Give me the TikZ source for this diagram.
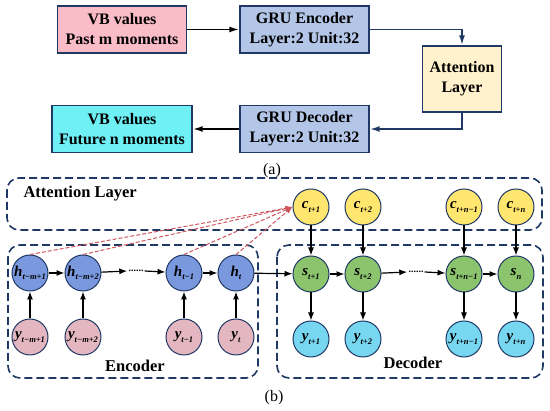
\documentclass[tikz,border=0pt]{standalone}
\usepackage{fontspec}
\setmainfont{Liberation Serif}
\definecolor{NavyLine}{RGB}{31,56,100}
\definecolor{PinkBox}{RGB}{250,188,198}
\definecolor{GruBlue}{RGB}{180,198,231}
\definecolor{AttnCream}{RGB}{255,242,204}
\definecolor{CyanBox}{RGB}{110,240,245}
\definecolor{HBlue}{RGB}{121,152,222}
\definecolor{YPink}{RGB}{228,182,192}
\definecolor{CYellow}{RGB}{255,230,110}
\definecolor{SGreen}{RGB}{140,196,110}
\definecolor{YCyan}{RGB}{120,215,240}
\definecolor{AttnRed}{RGB}{205,85,95}
\usetikzlibrary{arrows.meta,positioning}
\newcommand{\vlab}[2]{\textbf{\textit{#1}}\raisebox{-3.5pt}{\fontsize{8.5}{9}\selectfont\textbf{\textit{#2}}}}

\begin{document}
\begin{tikzpicture}[x=1pt,y=-1pt,
  box/.style={draw=NavyLine,line width=1.4pt,minimum width=129pt,minimum height=47pt,
    align=center,font=\fontsize{16}{20}\selectfont\bfseries},
  cell/.style={circle,draw=NavyLine,line width=1pt,minimum size=36pt,inner sep=0pt,
    font=\fontsize{15}{15}\selectfont},
  grp/.style={draw=NavyLine,line width=1.6pt,dash pattern=on 8pt off 4pt,rounded corners=12pt},
  flow/.style={-{Latex[length=10pt,width=6pt]},line width=1.8pt},
  link/.style={-{Latex[length=8pt,width=6pt]},line width=1.2pt},
  att/.style={-{Latex[length=7pt,width=5pt]},AttnRed,dash pattern=on 4pt off 2pt,line width=1pt}]
\useasboundingbox (0,0) rectangle (550,411);
% (a) overall flow
\node[box,fill=PinkBox] (past) at (122,29.5) {VB values\\Past m moments};
\node[box,fill=GruBlue] (enc) at (304.5,29.5) {GRU Encoder\\Layer:2 Unit:32};
\node[box,fill=AttnCream,minimum width=79pt,minimum height=66pt] (attn) at (462,79) {Attention\\Layer};
\node[box,fill=GruBlue] (dec) at (304.5,129) {GRU Decoder\\Layer:2 Unit:32};
\node[box,fill=CyanBox,minimum width=140pt] (future) at (122,129) {VB values\\Future n moments};
\draw[flow] (past) -- (enc);
\draw[flow,NavyLine] (enc.east) -| (attn.north);
\draw[flow,NavyLine] (attn.south) |- (dec.east);
\draw[flow] (dec) -- (future);
\node[font=\fontsize{16}{18}\selectfont] (capa) at (272,171) {(a)};
% (b) groups
\draw[grp] (7,178) rectangle (542,230);
\draw[grp] (8,245) rectangle (258,378);
\draw[grp] (277,245) rectangle (543,378);
\node[anchor=west,font=\fontsize{16.5}{18}\selectfont\bfseries] (attlab) at (20,194) {Attention Layer};
\node[font=\fontsize{16.5}{18}\selectfont\bfseries] (enclab) at (135,366) {Encoder};
\node[font=\fontsize{16.5}{18}\selectfont\bfseries] (declab) at (413,363) {Decoder};
\node[font=\fontsize{16}{18}\selectfont] (capb) at (274,398) {(b)};
% encoder cells
\node[cell,fill=HBlue] (h1) at (30,273) {\vlab{h}{t−m+1}};
\node[cell,fill=HBlue] (h2) at (83,273) {\vlab{h}{t−m+2}};
\node[cell,fill=HBlue] (h3) at (184,273) {\vlab{h}{t−1}};
\node[cell,fill=HBlue] (h4) at (236,273) {\vlab{h}{t}};
\node[cell,fill=YPink] (x1) at (30,337) {\vlab{y}{t−m+1}};
\node[cell,fill=YPink] (x2) at (83,337) {\vlab{y}{t−m+2}};
\node[cell,fill=YPink] (x3) at (184,337) {\vlab{y}{t−1}};
\node[cell,fill=YPink] (x4) at (236,337) {\vlab{y}{t}};
\node[inner sep=1pt,font=\bfseries] (edots) at (136,271) {......};
% decoder cells
\node[cell,fill=CYellow] (c1) at (311,207) {\vlab{c}{t+1}};
\node[cell,fill=CYellow] (c2) at (363,207) {\vlab{c}{t+2}};
\node[cell,fill=CYellow] (c3) at (464,207) {\vlab{c}{t+n−1}};
\node[cell,fill=CYellow] (c4) at (516,207) {\vlab{c}{t+n}};
\node[cell,fill=SGreen] (s1) at (311,274) {\vlab{s}{t+1}};
\node[cell,fill=SGreen] (s2) at (363,274) {\vlab{s}{t+2}};
\node[cell,fill=SGreen] (s3) at (464,274) {\vlab{s}{t+n−1}};
\node[cell,fill=SGreen] (s4) at (516,274) {\vlab{s}{n}};
\node[cell,fill=YCyan] (o1) at (311,339) {\vlab{y}{t+1}};
\node[cell,fill=YCyan] (o2) at (363,339) {\vlab{y}{t+2}};
\node[cell,fill=YCyan] (o3) at (464,339) {\vlab{y}{t+n−1}};
\node[cell,fill=YCyan] (o4) at (516,339) {\vlab{y}{t+n}};
\node[inner sep=1pt,font=\bfseries] (ddots) at (416,272) {......};
% recurrent links
\draw[link] (x1) -- (h1);
\draw[link] (x2) -- (h2);
\draw[link] (x3) -- (h3);
\draw[link] (x4) -- (h4);
\draw[link] (h1) -- (h2);
\draw[link] (h2) -- (edots.west);
\draw[link] (edots.east) -- (h3);
\draw[link] (h3) -- (h4);
\draw[link] (h4) -- (s1);
\draw[link] (s1) -- (s2);
\draw[link] (s2) -- (ddots.west);
\draw[link] (ddots.east) -- (s3);
\draw[link] (s3) -- (s4);
\draw[link] (c1) -- (s1);
\draw[link] (c2) -- (s2);
\draw[link] (c3) -- (s3);
\draw[link] (c4) -- (s4);
\draw[link] (s1) -- (o1);
\draw[link] (s2) -- (o2);
\draw[link] (s3) -- (o3);
\draw[link] (s4) -- (o4);
% attention weights
\draw[att] (h1.north) -- (c1.west);
\draw[att] (h2.north) -- (c1.west);
\draw[att] (h3.north) -- (c1.west);
\draw[att] (h4.north) -- (c1.west);
\end{tikzpicture}
\end{document}
